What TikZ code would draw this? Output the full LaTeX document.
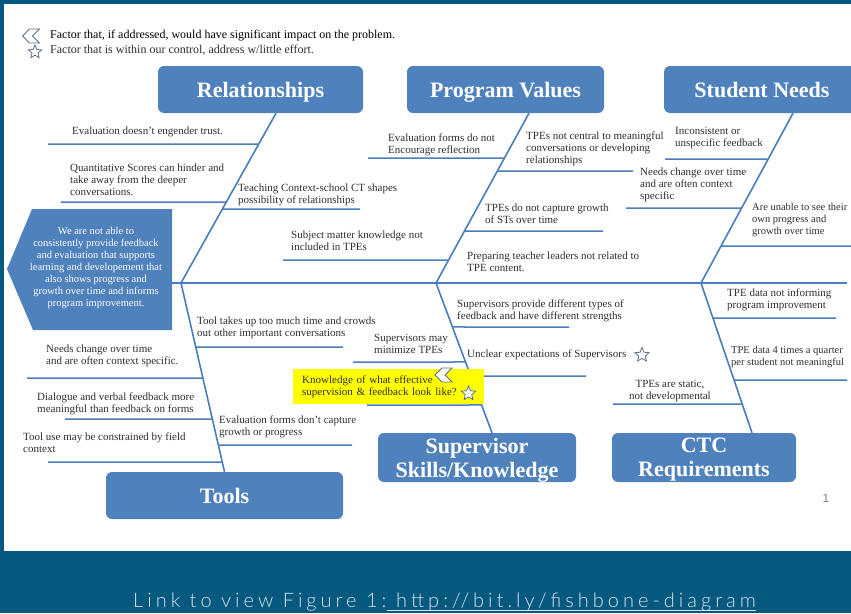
\documentclass[tikz,border=0pt]{standalone}
\usepackage{fontspec}
\setmainfont{Liberation Serif}
\setsansfont{Liberation Sans}
\newfontfamily\linkfont[LetterSpace=20]{Lato Light}
\usetikzlibrary{shapes.geometric, shapes.symbols}
\definecolor{FrameBlue}{HTML}{05597F}
\definecolor{BoxBlue}{HTML}{4F81BD}
\definecolor{BoneBlue}{HTML}{4A7EBB}
\definecolor{TextGray}{HTML}{2E2E2E}
\definecolor{IconGray}{HTML}{5F6F86}
\definecolor{MarkYellow}{HTML}{FFFF00}
\definecolor{LinkWhite}{HTML}{D9E3EC}
\tikzset{
  category/.style={fill=BoxBlue, rounded corners=6pt, text=white, align=center, inner sep=0pt, text depth=0pt, font=\fontsize{22}{24}\selectfont\bfseries},
  cause/.style={align=left, anchor=west, inner sep=0pt, text=TextGray, font=\fontsize{11}{12}\selectfont},
  bone/.style={draw=BoneBlue, line width=1.6pt},
  rib/.style={draw=BoneBlue, line width=1.5pt},
  spine/.style={draw=BoneBlue, line width=2pt},
  effort/.style={star, star points=5, star point ratio=2.2, draw=IconGray, fill=white, line width=0.8pt, minimum size=15pt, inner sep=0pt},
  impact/.style={signal, signal to=west, signal from=east, draw=IconGray, fill=white, line width=0.8pt, minimum width=17pt, minimum height=14pt, inner sep=0pt},
  linktext/.style={text=LinkWhite, inner sep=0pt, font=\linkfont\fontsize{20}{24}\selectfont}
}
% horizontal rib from (x,y) to the bone #1--#2
\newcommand{\rib}[4]{\draw[rib] (#3,#4) -- (intersection of #1--#2 and #3,#4--0,#4);}

\begin{document}
\begin{tikzpicture}[x=1pt, y=-1pt]
\useasboundingbox (0,0) rectangle (851,613);

% frame and caption band
\fill[FrameBlue] (0,0) rectangle (851,4);
\fill[FrameBlue] (0,0) rectangle (4,551);
\fill[FrameBlue] (0,551) rectangle (851,613);

% legend
\node[impact] (legImpact) at (31,36) {};
\node[anchor=west, inner sep=0pt, text=black, font=\fontsize{12}{14}\selectfont] (legImpactTxt) at (50,36)
  {Factor that, if addressed, would have significant impact on the problem.};
\node[effort, minimum size=14pt] (legEffort) at (35,52) {};
\node[anchor=west, inner sep=0pt, text=TextGray, font=\fontsize{12}{14}\selectfont] (legEffortTxt) at (50,50)
  {Factor that is within our control, address w/little effort.};

% categories
\node[category, minimum width=205pt, minimum height=47pt] (rel) at (260.5,89.5) {Relationships};
\node[category, minimum width=197pt, minimum height=47pt] (pv) at (505.5,89.5) {Program Values};
\node[category, minimum width=196pt, minimum height=47pt] (sn) at (762,89.5) {Student Needs};
\node[category, minimum width=237pt, minimum height=47pt] (tools) at (224.5,495.5) {Tools};
\node[category, minimum width=198pt, minimum height=49pt] (sup) at (477,457.5) {Supervisor\\Skills/Knowledge};
\node[category, minimum width=184pt, minimum height=49pt] (ctc) at (704,457.5) {CTC\\Requirements};

% head of the fish
\fill[BoxBlue] (32,209) -- (172,209) -- (172,330) -- (33,330) -- (7,269) -- cycle;
\node[align=center, inner sep=0pt, text=white, font=\fontsize{10.5}{11.9}\selectfont] (problem) at (96,268)
  {We are not able to\\consistently provide feedback\\and evaluation that supports\\learning and developement that\\also shows progress and\\growth over time and informs\\program improvement.};

% spine and bones
\coordinate (neck) at (172,283);
\coordinate (tail) at (847,283);
\coordinate (j1) at (181,283);
\coordinate (j2) at (436,283);
\coordinate (j3) at (701,283);
\coordinate (relFoot) at ([xshift=15.5pt]rel.south);
\coordinate (pvFoot) at ([xshift=23.5pt]pv.south);
\coordinate (snFoot) at ([xshift=31pt]sn.south);
\coordinate (toolsTop) at (tools.north);
\coordinate (supTop) at ([xshift=15pt]sup.north);
\coordinate (ctcTop) at ([xshift=48pt]ctc.north);
\draw[spine] (neck) -- (tail);
\draw[bone] (relFoot) -- (j1);
\draw[bone] (pvFoot) -- (j2);
\draw[bone] (snFoot) -- (j3);
\draw[bone] (j1) -- (toolsTop);
\draw[bone] (j2) -- (supTop);
\draw[bone] (j3) -- (ctcTop);

% Relationships
\node[cause] (trust) at (72,132) {Evaluation doesn't engender trust.};
\rib{j1}{relFoot}{48}{144}
\node[cause] (scores) at (70,180) {Quantitative Scores can hinder and\\take away from the deeper\\conversations.};
\rib{j1}{relFoot}{61}{202}
\node[cause] (context) at (238,195) {Teaching Context-school CT shapes\\possibility of relationships};
\rib{j1}{relFoot}{360}{209}

% Program Values
\node[cause] (reflect) at (388,145) {Evaluation forms do not\\Encourage reflection};
\rib{j2}{pvFoot}{368}{158}
\node[cause] (subject) at (291,241) {Subject matter knowledge not\\included in TPEs};
\rib{j2}{pvFoot}{283}{260}
\node[cause] (central) at (526,149) {TPEs not central to meaningful\\conversations or developing\\relationships};
\rib{j2}{pvFoot}{633}{171}
\node[cause] (growth) at (485,214) {TPEs do not capture growth\\of STs over time};
\rib{j2}{pvFoot}{603}{231}
\node[cause] (leaders) at (467,262) {Preparing teacher leaders not related to\\TPE content.};

% Student Needs
\node[cause] (unspec) at (675,138) {Inconsistent or\\unspecific feedback};
\rib{j3}{snFoot}{665}{159}
\node[cause] (needs) at (640,185) {Needs change over time\\and are often context\\specific};
\rib{j3}{snFoot}{626}{208}
\node[cause, font=\fontsize{10.5}{12}\selectfont] (unable) at (752,220) {Are unable to see their\\own progress and\\growth over time};
\rib{j3}{snFoot}{851}{246}

% Tools
\node[cause] (crowd) at (197,328) {Tool takes up too much time and crowds\\out other important conversations};
\rib{j1}{toolsTop}{343}{347}
\node[cause] (needsTool) at (46,356) {Needs change over time\\and are often context specific.};
\rib{j1}{toolsTop}{27}{378}
\node[cause] (dialogue) at (37,404) {Dialogue and verbal feedback more\\meaningful than feedback on forms};
\rib{j1}{toolsTop}{65}{419}
\node[cause] (field) at (23,443) {Tool use may be constrained by field\\context};
\rib{j1}{toolsTop}{48}{462}
\node[cause] (capture) at (219,427) {Evaluation forms don't capture\\growth or progress};
\rib{j1}{toolsTop}{352}{445}

% Supervisor Skills/Knowledge
\node[cause] (types) at (457,311) {Supervisors provide different types of\\feedback and have different strengths};
\rib{j2}{supTop}{569}{327}
\node[cause] (minimize) at (374,344) {Supervisors may\\minimize TPEs};
\rib{j2}{supTop}{353}{362}
\node[cause] (unclear) at (467,355) {Unclear expectations of Supervisors};
\node[effort] (unclearStar) at (642,355) {};
\rib{j2}{supTop}{586}{376}
\node[cause, anchor=north west, fill=MarkYellow, text width=173pt, inner xsep=9pt, minimum height=35pt] (know) at (293,369)
  {Knowledge of what effective\\supervision \& feedback look like?};
\node[impact] (knowImpact) at (443.5,375) {};
\node[effort] (knowEffort) at (468.5,393.5) {};
\rib{j2}{supTop}{367}{405}

% CTC Requirements
\node[cause] (inform) at (727,300) {TPE data not informing\\program improvement};
\rib{j3}{ctcTop}{836}{318}
\node[cause, font=\fontsize{10.5}{12}\selectfont] (quarter) at (731,357) {TPE data 4 times a quarter\\per student not meaningful};
\rib{j3}{ctcTop}{847}{380}
\node[cause, align=center, anchor=center] (static) at (670,391) {TPEs are static,\\not developmental};
\rib{j3}{ctcTop}{613}{404}

\node[text=gray, font=\sffamily\fontsize{12}{14}\selectfont] (pagenum) at (826,498) {1};

% caption
\node[linktext, anchor=base west] (lnk) at (133,607) {Link to view Figure 1:};
\node[linktext, anchor=base west] (url) at (lnk.base east) {\ http://bit.ly/fishbone-diagram};
\draw[LinkWhite, line width=0.7pt] ([yshift=-3pt]url.base west) -- ([yshift=-3pt]url.base east);
\end{tikzpicture}
\end{document}
